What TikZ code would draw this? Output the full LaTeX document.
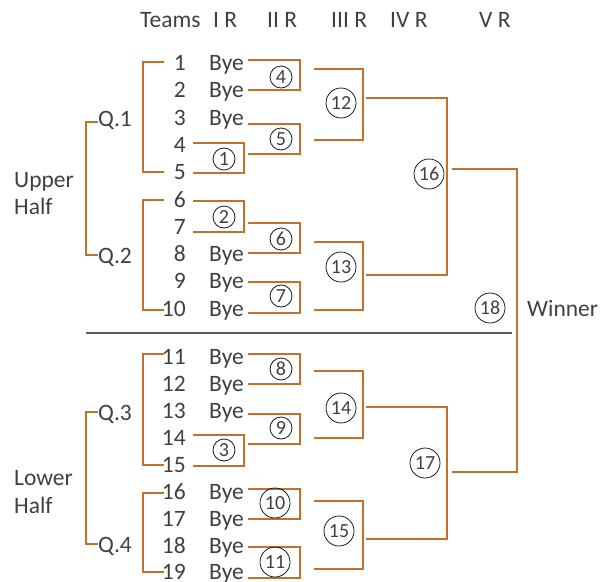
\documentclass[tikz,border=0pt]{standalone}
\usepackage{fontspec}
\setmainfont{Carlito}
\definecolor{txt}{HTML}{404040}
\definecolor{brc}{RGB}{196,112,45}
\definecolor{sepc}{HTML}{595959}
\begin{document}
\begin{tikzpicture}[x=1pt,y=-1pt,
 lbl/.style={text=txt,font=\fontsize{23.5}{27}\selectfont,inner sep=0pt},
 team/.style={lbl,anchor=base east},
 byetxt/.style={lbl,anchor=base west},
 headtxt/.style={lbl,anchor=base west},
 rnd/.style={circle,draw=black!90,line width=0.8pt,inner sep=0pt,minimum size=22pt,text=txt,font=\fontsize{20}{20}\selectfont},
 rndb/.style={rnd,minimum size=30pt},
 brk/.style={draw=brc,line width=1.5pt},
 sepline/.style={draw=sepc,line width=2pt},
]
\useasboundingbox (0,0) rectangle (602,581);
% headers
\node[headtxt] (hT) at (140,27) {Teams};
\node[headtxt] (h1) at (213,27) {I R};
\node[headtxt] (h2) at (267,27) {II R};
\node[headtxt] (h3) at (331,27) {III R};
\node[headtxt] (h4) at (390,27) {IV R};
\node[headtxt] (h5) at (479,27) {V R};
% halves
\node[headtxt] (up1) at (14,187) {Upper};
\node[headtxt] (up2) at (14,214) {Half};
\node[headtxt] (lo1) at (14,485) {Lower};
\node[headtxt] (lo2) at (14,513) {Half};
% quarters
\node[headtxt] (q1) at (98,126) {Q.1};
\node[headtxt] (q2) at (98,263) {Q.2};
\node[headtxt] (q3) at (98,420) {Q.3};
\node[headtxt] (q4) at (98,552) {Q.4};
% teams
\foreach \i/\y in {1/63,2/90.3,3/117.6,4/144.9,5/172.2,6/199.5,7/226.8,8/254.1,9/281.4,10/308.7,
  11/357,12/384,13/411,14/438,15/465,16/492,17/519,18/546,19/572}
  \node[team] (t\i) at (186,{\y+7.5}) {\i};
% byes
\foreach \i/\y in {1/63,2/90.3,3/117.6,8/254.1,9/281.4,10/308.7,
  11/357,12/384,13/411,16/492,17/519,18/546,19/572}
  \node[byetxt] (b\i) at (209,{\y+7.5}) {Bye};
\node[headtxt] (win) at (527,316) {Winner};
% separator
\coordinate (sL) at (86,333);
\coordinate (sR) at (512,333);
\draw[sepline] (sL) -- (sR);
% quarter brackets
\draw[brk] (98,122) -- (86,122) -- (86,255) -- (98,255);
\draw[brk] (98,412) -- (86,412) -- (86,544) -- (98,544);
\draw[brk] (164,62) -- (143,62) -- (143,172) -- (164,172);
\draw[brk] (164,200) -- (143,200) -- (143,310) -- (164,310);
\draw[brk] (164,354) -- (143,354) -- (143,465) -- (164,465);
\draw[brk] (164,493) -- (143,493) -- (143,572) -- (164,572);
% round I
\draw[brk] (193,143) -| (244,173) -- (193,173);
\draw[brk] (193,201) -| (244,232) -- (193,232);
\draw[brk] (193,435) -| (244,466) -- (193,466);
% round II
\foreach \a/\b in {60/90,124/154,223/253,282/313,354/384,414/444,489/519,547/578}
  \draw[brk] (248,\a) -| (300,\b) -- (248,\b);
% round III
\foreach \a/\b in {69/140,242/310,371/438,501/569}
  \draw[brk] (314,\a) -| (363,\b) -- (314,\b);
% round IV
\draw[brk] (366,98) -| (447,275) -- (366,275);
\draw[brk] (366,407) -| (447,539) -- (366,539);
% round V
\draw[brk] (452,169) -| (517,472) -- (452,472);
% circles
\node[rnd] (c1) at (224,159) {1};
\node[rnd] (c2) at (224,217) {2};
\node[rnd] (c3) at (224,450) {3};
\node[rnd] (c4) at (281,77) {4};
\node[rnd] (c5) at (281,139) {5};
\node[rnd] (c6) at (281,239) {6};
\node[rnd] (c7) at (281,296) {7};
\node[rnd] (c8) at (281,369) {8};
\node[rnd] (c9) at (281,428) {9};
\node[rndb] (c10) at (275,503) {10};
\node[rndb] (c11) at (275,562) {11};
\node[rndb] (c12) at (341,103) {12};
\node[rndb] (c13) at (341,267) {13};
\node[rndb] (c14) at (341,408) {14};
\node[rndb] (c15) at (339,531) {15};
\node[rndb] (c16) at (429,174) {16};
\node[rndb] (c17) at (425,463) {17};
\node[rndb] (c18) at (490,308) {18};
\end{tikzpicture}
\end{document}
